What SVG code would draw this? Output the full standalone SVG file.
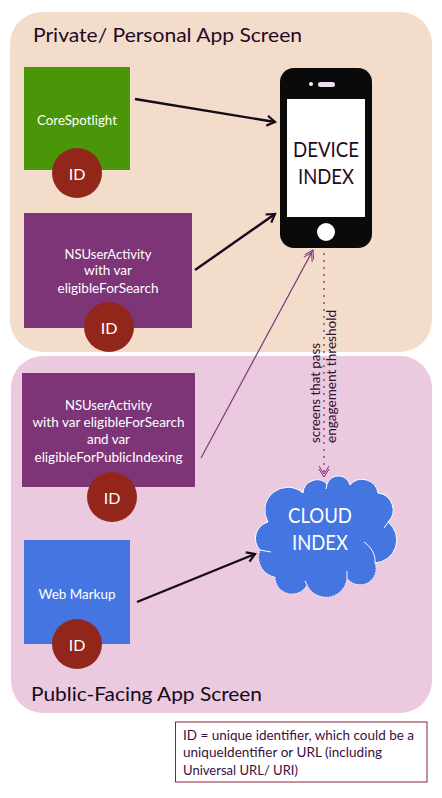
<svg xmlns="http://www.w3.org/2000/svg" width="442" height="798" viewBox="0 0 442 798">
<style>
text{font-family:"Lato","Carlito","Open Sans",sans-serif}
.w{fill:#fff;font-size:13px;text-anchor:middle}
.id{fill:#fff;font-size:16px;text-anchor:middle}
.big{font-size:22px;text-anchor:middle}
.title{fill:#1f0a24;font-size:20px}
.legend{fill:#3a0f3f;font-size:14px}
.side{fill:#2a1030;font-size:13px}
.badge{fill:#92261b}
.dark{fill:none;stroke:#150a1a;stroke-width:2.4;marker-end:url(#ah)}
</style>
<defs>
<marker id="ah" markerUnits="userSpaceOnUse" markerWidth="14" markerHeight="14" refX="11" refY="7" orient="auto"><path d="M3 2L11 7L3 12" fill="none" stroke="#150a1a" stroke-width="2.2"/></marker>
<marker id="ap" markerUnits="userSpaceOnUse" markerWidth="14" markerHeight="14" refX="11" refY="7" orient="auto"><path d="M3 2L11 7L3 12M0 2L8 7L0 12" fill="none" stroke="#7e3578" stroke-width="1"/></marker>
</defs>
<rect id="bg" width="442" height="798" fill="#fff"/>
<g id="private-region"><rect x="10" y="12" width="422" height="340" rx="32" fill="#f4dcca"/><text class="title" x="33" y="42" textLength="269" lengthAdjust="spacingAndGlyphs">Private/ Personal App Screen</text></g>
<g id="public-region"><rect x="11" y="356" width="421" height="357" rx="32" fill="#ebc9df"/><text class="title" x="31" y="701" textLength="231" lengthAdjust="spacingAndGlyphs" style="fill:#140a18">Public-Facing App Screen</text></g>
<g id="connectors">
<line class="dark" x1="135" y1="99" x2="275" y2="122"/>
<line class="dark" x1="195" y1="270" x2="275" y2="214"/>
<line class="dark" x1="137" y1="602" x2="255" y2="554"/>
<line x1="201" y1="458" x2="313" y2="250" stroke="#7e3578" stroke-width="1.2" marker-end="url(#ap)"/>
<line x1="324" y1="253" x2="324" y2="477" stroke="#7e3578" stroke-width="1.3" stroke-dasharray="2 5" marker-end="url(#ap)"/>
<text class="side" transform="translate(320 443) rotate(-90)" textLength="100" lengthAdjust="spacingAndGlyphs">screens that pass</text>
<text class="side" transform="translate(336 443) rotate(-90)" textLength="133" lengthAdjust="spacingAndGlyphs">engagement threshold</text>
</g>
<g id="corespotlight"><rect x="24" y="67" width="106" height="103" fill="#4a9608"/><text class="w" x="77" y="125" textLength="80" lengthAdjust="spacingAndGlyphs">CoreSpotlight</text><circle class="badge" cx="77" cy="173" r="25"/><text class="id" x="77" y="180">ID</text></g>
<g id="nsuseractivity-search"><rect x="24" y="213" width="168" height="115" fill="#7e3578"/><text class="w" x="108" y="259" textLength="87" lengthAdjust="spacingAndGlyphs">NSUserActivity</text><text class="w" x="108" y="275" textLength="48" lengthAdjust="spacingAndGlyphs">with var</text><text class="w" x="108" y="293" textLength="101" lengthAdjust="spacingAndGlyphs">eligibleForSearch</text><circle class="badge" cx="109" cy="327" r="25"/><text class="id" x="109" y="334">ID</text></g>
<g id="nsuseractivity-public"><rect x="22" y="373" width="173" height="114" fill="#7e3578"/><text class="w" x="108.500" y="410" textLength="87" lengthAdjust="spacingAndGlyphs">NSUserActivity</text><text class="w" x="108.500" y="427" textLength="152" lengthAdjust="spacingAndGlyphs">with var eligibleForSearch</text><text class="w" x="108.500" y="444" textLength="43" lengthAdjust="spacingAndGlyphs">and var</text><text class="w" x="108.500" y="462" textLength="148" lengthAdjust="spacingAndGlyphs">eligibleForPublicIndexing</text><circle class="badge" cx="112" cy="497" r="25"/><text class="id" x="112" y="504">ID</text></g>
<g id="web-markup"><rect x="24" y="540" width="106" height="104" fill="#4475e0"/><text class="w" x="77" y="599" textLength="77" lengthAdjust="spacingAndGlyphs">Web Markup</text><circle class="badge" cx="77" cy="644" r="25"/><text class="id" x="77" y="651">ID</text></g>
<g id="device-index"><rect x="280" y="68" width="92" height="180" rx="14" fill="#0a0a0a"/><rect x="287" y="99" width="78" height="118" fill="#fff"/><circle cx="326" cy="232" r="9" fill="#fff"/><rect x="318" y="82" width="17" height="5" rx="2.500" fill="#f4dcf0"/><circle cx="311" cy="84" r="2" fill="#f4f4f4"/><text class="big" x="326" y="157" fill="#1f0a24" textLength="66" lengthAdjust="spacingAndGlyphs">DEVICE</text><text class="big" x="326" y="184" fill="#1f0a24" textLength="56" lengthAdjust="spacingAndGlyphs">INDEX</text></g>
<g id="cloud-index"><path d="M268 522A23 23 0 0 1 303 493A14 14 0 0 1 327 484A12 12 0 0 1 350 485A16 16 0 0 1 378 493A17 17 0 0 1 388 522A23 23 0 0 1 375 563A16 16 0 0 1 347 578A21 21 0 0 1 307 585A17 17 0 0 1 275 577A20 20 0 0 1 260 550A17 17 0 0 1 268 522Z" fill="#4475e0"/><path d="M260 550A17 17 0 0 1 268 522A23 23 0 0 1 303 493A14 14 0 0 1 327 484A12 12 0 0 1 350 485A16 16 0 0 1 378 493A17 17 0 0 1 388 522A23 23 0 0 1 375 563" fill="none" stroke="#fff" stroke-width="1"/><path d="M375 563A16 16 0 0 1 347 578A21 21 0 0 1 307 585A17 17 0 0 1 275 577A20 20 0 0 1 260 550" fill="none" stroke="#f8eef6" stroke-width="1" stroke-dasharray="2 1"/><path d="M364 542C370 546 376 554 375 563M384 528L389 521M260 550L271 552M303 493L300 489M327 484L326 489M307 585L305 581M347 578L347 571" fill="none" stroke="#fff"/><text class="big" x="320" y="523" fill="#fff" textLength="64" lengthAdjust="spacingAndGlyphs">CLOUD</text><text class="big" x="320" y="550" fill="#fff" textLength="56" lengthAdjust="spacingAndGlyphs">INDEX</text></g>
<g id="legend"><rect x="175.500" y="722" width="251.500" height="60" fill="#fff" stroke="#8c1f3a" stroke-width="1"/><text class="legend" x="183" y="740" textLength="231" lengthAdjust="spacingAndGlyphs">ID = unique identifier, which could be a</text><text class="legend" x="183" y="757" textLength="199" lengthAdjust="spacingAndGlyphs">uniqueIdentifier or URL (including</text><text class="legend" x="183" y="775" textLength="115" lengthAdjust="spacingAndGlyphs">Universal URL/ URI)</text></g>
</svg>
